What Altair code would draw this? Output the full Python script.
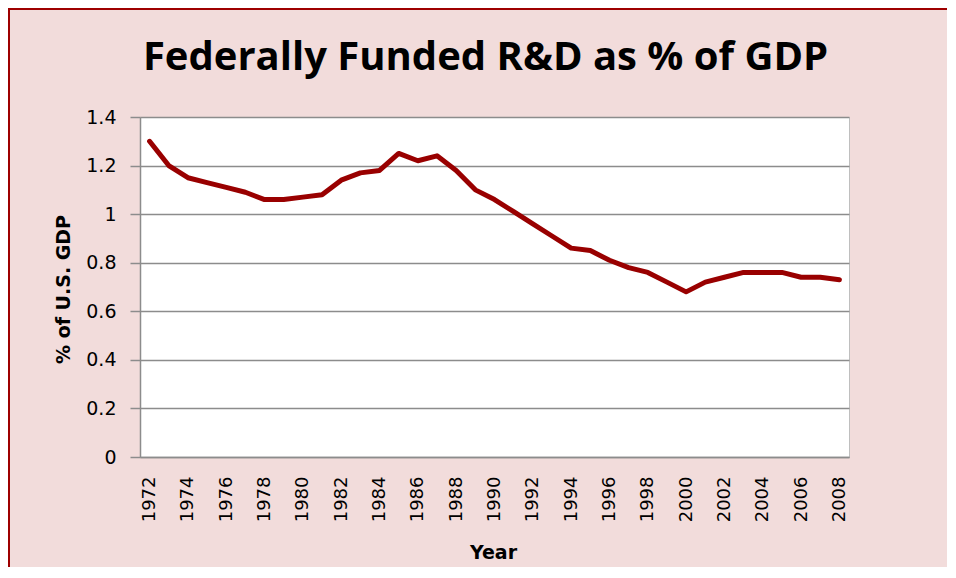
import altair as alt
import pandas as pd

years = list(range(1972, 2009))
pct_gdp = [1.30, 1.20, 1.15, 1.13, 1.11, 1.09, 1.06, 1.06, 1.07, 1.08,
           1.14, 1.17, 1.18, 1.25, 1.22, 1.24, 1.18, 1.10, 1.06, 1.01,
           0.96, 0.91, 0.86, 0.85, 0.81, 0.78, 0.76, 0.72, 0.68, 0.72,
           0.74, 0.76, 0.76, 0.76, 0.74, 0.74, 0.73]
x_ticks = list(range(1972, 2009, 2))
y_ticks = [0, 0.2, 0.4, 0.6, 0.8, 1, 1.2, 1.4]

title_text = "Federally Funded R&D as % of GDP"
x_title = "Year"
y_title = "% of U.S. GDP"

df = pd.DataFrame({"year": years, "pct": pct_gdp})

W, H = 709, 340
PAD_L, PAD_T, PAD_R, PAD_B = 132, 109, 98, 110
FONT = "DejaVu Sans"
TFONT = "Open Sans"
GRID = "#8C8C8C"
BORDER = "#9E0000"

line = alt.Chart(df).mark_line(
    color="#990000", strokeWidth=5, strokeCap="round", strokeJoin="round"
).encode(
    x=alt.X("year:Q",
            scale=alt.Scale(domain=[1971.5, 2008.5], nice=False, zero=False),
            axis=alt.Axis(values=x_ticks, format="d", labelAngle=-90,
                          labelFont=FONT, labelFontSize=18, labelColor="black",
                          labelPadding=19, ticks=False, grid=False,
                          domainColor=GRID, domainWidth=1.5,
                          title=x_title, titleFont=FONT, titleFontSize=19,
                          titleFontWeight="bold", titleColor="black",
                          titleX=353, titleY=95, titleBaseline="middle",
                          titleAlign="center", labelFlush=False,
                          labelOverlap=False)),
    y=alt.Y("pct:Q",
            scale=alt.Scale(domain=[0, 1.4], nice=False),
            axis=alt.Axis(values=y_ticks, format="~g",
                          labelFont=FONT, labelFontSize=19, labelColor="black",
                          labelPadding=14, tickSize=10, tickColor=GRID,
                          tickWidth=1.5, domainColor=GRID, domainWidth=1.5,
                          gridColor=GRID, gridWidth=1.5,
                          title=y_title, titleFont=FONT, titleFontSize=19,
                          titleFontWeight="bold", titleColor="black",
                          titleAngle=-90, titleX=-71, titleY=172,
                          titleBaseline="alphabetic", titleAlign="center")),
)

left_border = alt.Chart(df).mark_rule(color=BORDER, strokeWidth=2).encode(
    x=alt.value(-PAD_L + 1), y=alt.value(-PAD_T), y2=alt.value(H + PAD_B)
)
top_border = alt.Chart(df).mark_rule(color=BORDER, strokeWidth=1.5).encode(
    y=alt.value(-PAD_T + 0.75), x=alt.value(-PAD_L), x2=alt.value(W + PAD_R)
)

chart = alt.layer(line, left_border, top_border).properties(
    width=W, height=H,
    background="#F2DCDB",
    autosize=alt.AutoSizeParams(type="none"),
    padding={"left": PAD_L, "top": PAD_T, "right": PAD_R, "bottom": PAD_B},
    title=alt.TitleParams(title_text, font=TFONT, fontSize=40, fontWeight="bold",
                          color="black", anchor="middle", frame="group",
                          baseline="alphabetic", offset=-103, dx=-9),
).configure_view(
    fill="white", stroke="#BFBFBF", strokeWidth=1
)

chart.save("out.html", embed_options={"renderer": "svg", "actions": False})
